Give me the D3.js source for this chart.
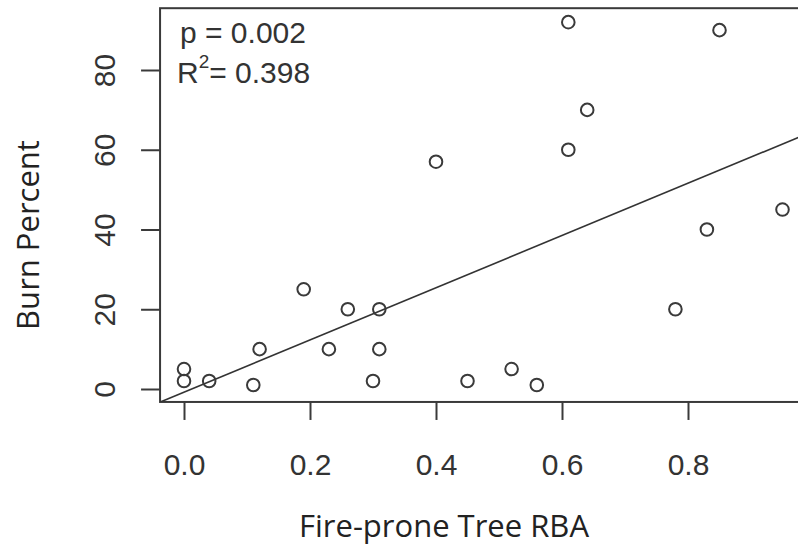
<!DOCTYPE html>
<html>
<head>
<meta charset="utf-8">
<script src="https://cdn.jsdelivr.net/npm/d3@7"></script>
<style>
  html, body { margin: 0; padding: 0; background: #fff; }
  svg { display: block; }
</style>
</head>
<body>
<svg id="chart" width="798" height="553"></svg>
<script>
// ---- data ----
const rba  = [0, 0, 0.04, 0.11, 0.12, 0.19, 0.23, 0.26, 0.31, 0.31, 0.30, 0.45, 0.52, 0.56, 0.78, 0.40, 0.61, 0.61, 0.64, 0.85, 0.83, 0.95];
const burn = [5, 2, 2, 1, 10, 25, 10, 20, 20, 10, 2, 2, 5, 1, 20, 57, 92, 60, 70, 90, 40, 45];
const xTicks = [0, 0.2, 0.4, 0.6, 0.8];
const yTicks = [0, 20, 40, 60, 80];
const fitIntercept = -0.8;
const fitSlope = 65.5;
const xDomain = [-0.038, 0.988];
const yDomain = [-3.25, 95.5];
const xTitle = "Fire-prone Tree RBA";
const yTitle = "Burn Percent";
const statP = "p = 0.002";
const statR2 = "0.398";

// ---- chart ----
const svg = d3.select("#chart");
const x = d3.scaleLinear().domain([0, 0.8]).range([184, 688]);
const y = d3.scaleLinear().domain([0, 80]).range([389, 70]);

const pLeft = x(xDomain[0]), pRight = x(xDomain[1]);
const pTop = y(yDomain[1]), pBottom = y(yDomain[0]);
const ink = "#3a3a3a";

svg.append("defs").append("clipPath").attr("id", "plotclip")
  .append("rect").attr("x", pLeft).attr("y", pTop)
  .attr("width", pRight - pLeft).attr("height", pBottom - pTop);

// frame
svg.append("rect")
  .attr("x", pLeft).attr("y", pTop)
  .attr("width", pRight - pLeft).attr("height", pBottom - pTop)
  .attr("fill", "none").attr("stroke", ink).attr("stroke-width", 2);

// x axis
const xAxis = d3.axisBottom(x).tickValues(xTicks).tickFormat(d3.format(".1f"))
  .tickSize(18).tickPadding(34);
const gx = svg.append("g").attr("transform", `translate(0,${pBottom})`).call(xAxis);
gx.select(".domain").remove();
gx.selectAll(".tick line").attr("stroke", ink).attr("stroke-width", 2);
gx.selectAll(".tick text")
  .attr("font-family", "Liberation Sans, Arial, sans-serif")
  .attr("font-size", 30).attr("fill", "#333");

// y axis
const yAxis = d3.axisLeft(y).tickValues(yTicks).tickFormat(d3.format("d"))
  .tickSize(19).tickPadding(0);
const gy = svg.append("g").attr("transform", `translate(${pLeft},0)`).call(yAxis);
gy.select(".domain").remove();
gy.selectAll(".tick line").attr("stroke", ink).attr("stroke-width", 2);
gy.selectAll(".tick text")
  .attr("font-family", "Liberation Sans, Arial, sans-serif")
  .attr("font-size", 30).attr("fill", "#333")
  .attr("text-anchor", "middle")
  .attr("x", 0).attr("dy", 0)
  .attr("transform", `translate(${115 - pLeft},0) rotate(-90)`);

// regression line
svg.append("line")
  .attr("clip-path", "url(#plotclip)")
  .attr("x1", x(xDomain[0])).attr("y1", y(fitIntercept + fitSlope * xDomain[0]))
  .attr("x2", x(xDomain[1])).attr("y2", y(fitIntercept + fitSlope * xDomain[1]))
  .attr("stroke", "#333").attr("stroke-width", 1.6);

// points
svg.append("g").selectAll("circle")
  .data(rba.map((v, i) => [v, burn[i]]))
  .join("circle")
  .attr("cx", d => x(d[0])).attr("cy", d => y(d[1]))
  .attr("r", 6.3)
  .attr("fill", "none").attr("stroke", "#3a3a3a").attr("stroke-width", 2);

// stats text
const stat = svg.append("g")
  .attr("font-family", "Liberation Sans, Arial, sans-serif")
  .attr("font-size", 30).attr("fill", "#333");
stat.append("text").attr("x", 180).attr("y", 43).text(statP);
const r2 = stat.append("text").attr("x", 177).attr("y", 83);
r2.append("tspan").text("R");
r2.append("tspan").attr("font-size", 19).attr("dy", -15).text("2");
r2.append("tspan").attr("dy", 15).text("= " + statR2);

// axis titles
svg.append("text")
  .attr("x", 444).attr("y", 537)
  .attr("text-anchor", "middle")
  .attr("font-family", "Open Sans, sans-serif")
  .attr("font-size", 31).attr("fill", "#222")
  .text(xTitle);

svg.append("text")
  .attr("transform", "translate(39,235) rotate(-90)")
  .attr("text-anchor", "middle")
  .attr("font-family", "Open Sans, sans-serif")
  .attr("font-size", 31).attr("fill", "#222")
  .text(yTitle);
</script>
</body>
</html>
